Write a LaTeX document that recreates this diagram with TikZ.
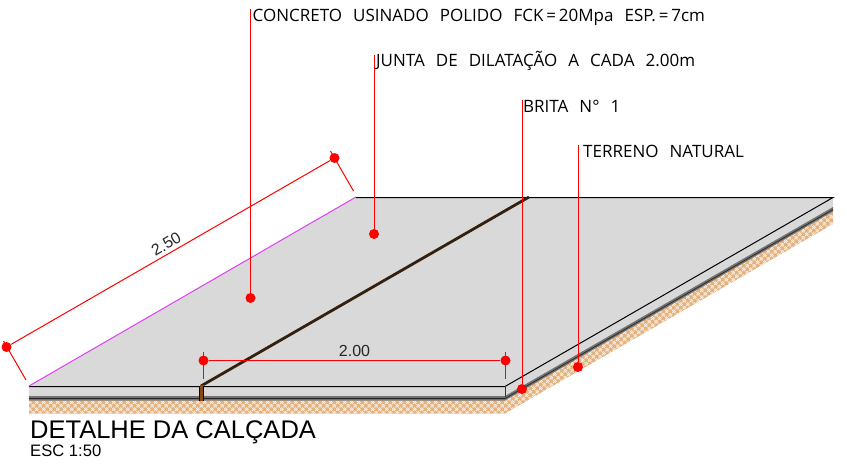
\documentclass[tikz,border=0pt]{standalone}
\usepackage{fontspec}
\setmainfont{Liberation Sans}
\newfontfamily\cadfont[WordSpace=2.5]{Open Sans}
\usetikzlibrary{patterns}
\definecolor{slabgray}{HTML}{D9D9D9}
\definecolor{soiltan}{HTML}{E3B27F}
\definecolor{jointbrown}{HTML}{8A4A12}
\definecolor{jointdark}{HTML}{33200F}
\definecolor{edgemagenta}{HTML}{DE40F0}
\pgfdeclarepatternformonly{soilweave}{\pgfqpoint{-1pt}{-1pt}}{\pgfqpoint{8pt}{8pt}}{\pgfqpoint{7pt}{7pt}}{
	\pgfsetlinewidth{0.6pt}
	\pgfsetstrokecolor{white}
	\pgfpathmoveto{\pgfqpoint{0pt}{0pt}}\pgfpathlineto{\pgfqpoint{3.5pt}{3.5pt}}
	\pgfpathmoveto{\pgfqpoint{1.75pt}{0pt}}\pgfpathlineto{\pgfqpoint{3.5pt}{1.75pt}}
	\pgfpathmoveto{\pgfqpoint{0pt}{1.75pt}}\pgfpathlineto{\pgfqpoint{1.75pt}{3.5pt}}
	\pgfpathmoveto{\pgfqpoint{3.5pt}{7pt}}\pgfpathlineto{\pgfqpoint{7pt}{3.5pt}}
	\pgfpathmoveto{\pgfqpoint{3.5pt}{5.25pt}}\pgfpathlineto{\pgfqpoint{5.25pt}{3.5pt}}
	\pgfpathmoveto{\pgfqpoint{5.25pt}{7pt}}\pgfpathlineto{\pgfqpoint{7pt}{5.25pt}}
	\pgfusepath{stroke}
}
\begin{document}
\begin{tikzpicture}[x=1pt,y=-1pt,
		dot/.style={circle,fill=red,inner sep=0,minimum size=10pt},
		leader/.style={red,line width=1pt},
		callout/.style={anchor=base west,inner sep=0,font=\cadfont\fontsize{17}{19}\selectfont},
		dimtext/.style={inner sep=0,text=black!85,font=\fontsize{16}{18}\selectfont},
		soil/.style={fill=soiltan,draw=none},
		weave/.style={pattern=soilweave}
	]
	\useasboundingbox (0,0) rectangle (847,474);
	% soil
	\path[soil] (29,400) -- (505,400) -- (833,211) -- (833,224) -- (505,413.5) -- (29,413.5) -- cycle;
	\path[weave] (29,400) -- (505,400) -- (833,211) -- (833,224) -- (505,413.5) -- (29,413.5) -- cycle;
	% slab
	\fill[slabgray] (29,386) -- (356,197) -- (833,197) -- (833,208) -- (505,397) -- (29,397) -- cycle;
	\fill[black!55] (29,396) -- (505,396) -- (833,207) -- (833,211.5) -- (505,400.5) -- (29,400.5) -- cycle;
	\draw[black!85,line width=0.7pt] (29,398.5) -- (505,398.5) -- (833,209.5);
	\draw[black,line width=1pt] (29,386.5) -- (505,386.5) -- (833,197.5) -- (356,197.5);
	\draw[black!80,line width=0.7pt] (505.5,386) -- (505.5,397);
	\draw[edgemagenta,line width=1pt] (29,386) -- (356,197);
	% joint
	\draw[jointdark,line width=2.8pt] (201,386) -- (529,197);
	\fill[jointbrown] (199.5,385) rectangle (203.5,401);
	\draw[black,line width=0.7pt] (199.5,386) -- (199.5,401) (203.5,386) -- (203.5,401);
	% callouts
	\node[dot] (concretedot) at (250.5,298) {};
	\node[dot] (jointdot)    at (374,234) {};
	\node[dot] (graveldot)   at (522,389) {};
	\node[dot] (grounddot)   at (578,367) {};
	\coordinate (concretetop) at (250.5,9);
	\coordinate (jointtop)    at (374,55);
	\coordinate (graveltop)   at (522,100);
	\coordinate (groundtop)   at (578,145);
	\draw[leader] (concretetop) -- (concretedot);
	\draw[leader] (jointtop)    -- (jointdot);
	\draw[leader] (graveltop)   -- (graveldot);
	\draw[leader] (groundtop)   -- (grounddot);
	\node[callout] (concretetext) at (252.5,21.7) {CONCRETO USINADO POLIDO FCK\,=\,20Mpa ESP.\,=\,7cm};
	\node[callout] (jointtext)    at (376,66.7) {JUNTA DE DILATAÇÃO A CADA 2.00m};
	\node[callout] (graveltext)   at (523,112.5) {BRITA N° 1};
	\node[callout] (groundtext)   at (583,157.5) {TERRENO NATURAL};
	% dimension 2.50
	\node[dot] (longa) at (6.5,347) {};
	\node[dot] (longb) at (334.5,158) {};
	\coordinate (longaout) at (3.5,341);
	\coordinate (longain)  at (26,380);
	\coordinate (longbout) at (330.5,151);
	\coordinate (longbin)  at (353.5,191);
	\draw[leader] (longa) -- (longb) node[midway,dimtext,rotate=30,yshift=9.6pt,xshift=0.4pt] (longtext) {2.50};
	\draw[leader] (longaout) -- (longain);
	\draw[leader] (longbout) -- (longbin);
	% dimension 2.00
	\node[dot] (shorta) at (203.5,360.5) {};
	\node[dot] (shortb) at (505.5,360.5) {};
	\coordinate (shortaout) at (203.5,352);
	\coordinate (shortain)  at (203.5,379);
	\coordinate (shortbout) at (505.5,352);
	\coordinate (shortbin)  at (505.5,379);
	\draw[leader] (shorta) -- (shortb) node[midway,dimtext,yshift=10pt] (shorttext) {2.00};
	\draw[leader] (shortaout) -- (shortain);
	\draw[leader] (shortbout) -- (shortbin);
	% title
	\node[anchor=base west,inner sep=0,font=\fontsize{25.5}{28}\selectfont] (title) at (30,438.5) {DETALHE DA CALÇADA};
	\node[anchor=base west,inner sep=0,font=\fontsize{16.6}{18}\selectfont] (scale) at (30,456.7) {ESC 1:50};
\end{tikzpicture}
\end{document}
